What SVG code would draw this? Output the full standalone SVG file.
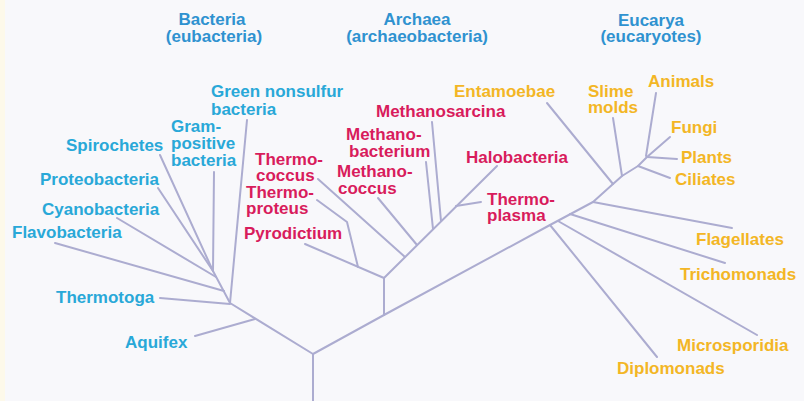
<svg xmlns="http://www.w3.org/2000/svg" width="804" height="401" viewBox="0 0 804 401">
<style>
text{font-family:"Liberation Sans",Arial,Helvetica,sans-serif;font-weight:bold;font-size:17px}
.hd{fill:#2f92d0}
.bac{fill:#29a8d8}
.arc{fill:#d81c5c}
.euk{fill:#f3b625}
.ln{fill:none;stroke:#acacd0;stroke-width:2;stroke-linecap:round;stroke-linejoin:round}
</style>
<rect x="0" y="0" width="804" height="401" fill="#f8f8fb"/>
<rect x="0" y="0" width="5" height="401" fill="#fdf9ea"/>

<g id="connectors" class="ln">
  <path d="M313,401 L313,354"/>
  <path d="M313,354 L230,303 L213,271"/>
  <path d="M313,354 L384,315 L550,225 L593,202 L613,184 L622,176 L638,166 L647,157"/>
  <path d="M195,336 L255,319"/>
  <path d="M160,298 L230,304"/>
  <path d="M247,120 L230,303"/>
  <path d="M55,243 L224,291"/>
  <path d="M117,218 L216,277"/>
  <path d="M158,188 L213,271"/>
  <path d="M160,155 L213,271"/>
  <path d="M214,172 L213,271"/>
  <path d="M384,315 L384,278"/>
  <path d="M305,244 L384,278"/>
  <path d="M317,200 L347,222 L358,267"/>
  <path d="M384,278 L497,166"/>
  <path d="M318,179 L405,257"/>
  <path d="M378,198 L417,245"/>
  <path d="M426,162 L433,229"/>
  <path d="M432,122 L441,221"/>
  <path d="M456,206 L481,202"/>
  <path d="M656,93 L646,156"/>
  <path d="M670,137 L647,157"/>
  <path d="M677,159 L647,157"/>
  <path d="M638,166 L670,178"/>
  <path d="M613,118 L622,176"/>
  <path d="M547,103 L613,184"/>
  <path d="M593,202 L732,228"/>
  <path d="M570,214 L725,263"/>
  <path d="M558,221 L757,335"/>
  <path d="M550,225 L657,357"/>
</g>

<g id="header-bacteria" class="hd"><text text-anchor="middle"><tspan x="212" y="25">Bacteria</tspan><tspan x="214" y="42">(eubacteria)</tspan></text></g>
<g id="header-archaea" class="hd"><text text-anchor="middle"><tspan x="417" y="25">Archaea</tspan><tspan x="417" y="42">(archaeobacteria)</tspan></text></g>
<g id="header-eucarya" class="hd"><text text-anchor="middle"><tspan x="651" y="26">Eucarya</tspan><tspan x="651" y="42">(eucaryotes)</tspan></text></g>

<g id="green-nonsulfur" class="bac"><text><tspan x="211" y="97">Green nonsulfur</tspan><tspan x="211" y="115">bacteria</tspan></text></g>
<g id="gram-positive" class="bac"><text><tspan x="171" y="132">Gram-</tspan><tspan x="171" y="149">positive</tspan><tspan x="171" y="166">bacteria</tspan></text></g>
<g id="spirochetes" class="bac"><text x="66" y="151">Spirochetes</text></g>
<g id="proteobacteria" class="bac"><text x="40" y="185">Proteobacteria</text></g>
<g id="cyanobacteria" class="bac"><text x="42" y="215">Cyanobacteria</text></g>
<g id="flavobacteria" class="bac"><text x="12" y="238">Flavobacteria</text></g>
<g id="thermotoga" class="bac"><text x="56" y="303">Thermotoga</text></g>
<g id="aquifex" class="bac"><text x="125" y="348">Aquifex</text></g>

<g id="methanosarcina" class="arc"><text x="376" y="117">Methanosarcina</text></g>
<g id="methanobacterium" class="arc"><text><tspan x="346" y="140">Methano-</tspan><tspan x="349" y="157">bacterium</tspan></text></g>
<g id="methanococcus" class="arc"><text><tspan x="337" y="177">Methano-</tspan><tspan x="338" y="194">coccus</tspan></text></g>
<g id="thermococcus" class="arc"><text><tspan x="255" y="165">Thermo-</tspan><tspan x="256" y="181">coccus</tspan></text></g>
<g id="thermoproteus" class="arc"><text><tspan x="246" y="198">Thermo-</tspan><tspan x="246" y="214">proteus</tspan></text></g>
<g id="pyrodictium" class="arc"><text x="244" y="239">Pyrodictium</text></g>
<g id="halobacteria" class="arc"><text x="466" y="163">Halobacteria</text></g>
<g id="thermoplasma" class="arc"><text><tspan x="487" y="205">Thermo-</tspan><tspan x="487" y="221">plasma</tspan></text></g>

<g id="entamoebae" class="euk"><text x="454" y="97">Entamoebae</text></g>
<g id="slime-molds" class="euk"><text><tspan x="588" y="97">Slime</tspan><tspan x="588" y="113">molds</tspan></text></g>
<g id="animals" class="euk"><text x="648" y="87">Animals</text></g>
<g id="fungi" class="euk"><text x="671" y="133">Fungi</text></g>
<g id="plants" class="euk"><text x="681" y="163">Plants</text></g>
<g id="ciliates" class="euk"><text x="675" y="185">Ciliates</text></g>
<g id="flagellates" class="euk"><text x="696" y="245">Flagellates</text></g>
<g id="trichomonads" class="euk"><text x="680" y="280">Trichomonads</text></g>
<g id="microsporidia" class="euk"><text x="677" y="351">Microsporidia</text></g>
<g id="diplomonads" class="euk"><text x="617" y="374">Diplomonads</text></g>
</svg>
